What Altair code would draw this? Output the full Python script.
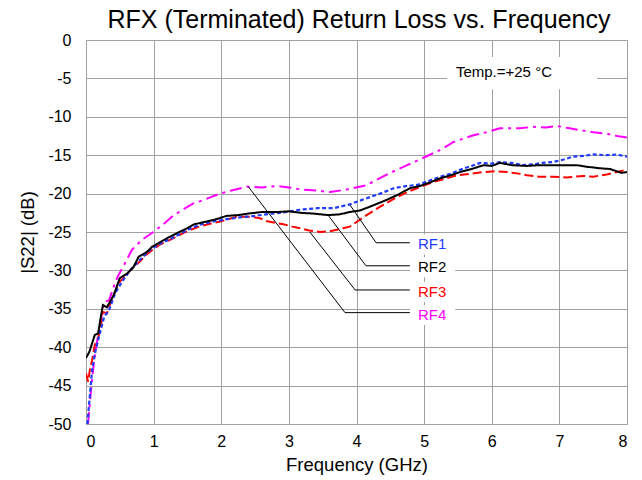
import altair as alt
import pandas as pd

# ---------------- data ----------------
rf1_freq = [0.02, 0.06, 0.09, 0.14, 0.19, 0.27, 0.34, 0.43, 0.53, 0.65,
            0.8, 0.95, 1.1, 1.25, 1.4, 1.55, 1.7, 1.9, 2.1, 2.28,
            2.5, 2.75, 2.97, 3.16, 3.42, 3.66, 3.9, 4.15, 4.35, 4.55,
            4.75, 4.89, 5.05, 5.24, 5.4, 5.53, 5.7, 5.83, 6.0, 6.12,
            6.3, 6.45, 6.61, 6.75, 6.9, 7.05, 7.2, 7.35, 7.5, 7.7,
            7.85, 8.0]
rf1_db = [-50, -46, -43, -40.5, -38.7, -36.0, -35.2, -33.0, -31.5, -30.0,
          -28.6, -27.3, -26.5, -25.9, -25.2, -24.5, -24.0, -23.6, -23.3, -23.1,
          -22.9, -22.6, -22.4, -22.1, -21.9, -21.9, -21.4, -20.6, -20.0, -19.3,
          -19.0, -18.9, -18.4, -17.8, -17.4, -16.9, -16.4, -16.0, -16.1, -15.9,
          -16.0, -16.3, -16.2, -16.0, -15.9, -15.6, -15.2, -15.1, -14.9, -15.0,
          -14.9, -15.2]

rf2_freq = [0.0, 0.05, 0.13, 0.18, 0.22, 0.25, 0.31, 0.41, 0.5, 0.61,
            0.7, 0.78, 0.9, 0.98, 1.1, 1.2, 1.38, 1.5, 1.6, 1.75,
            1.9, 2.08, 2.25, 2.4, 2.6, 2.82, 3.0, 3.17, 3.36, 3.58,
            3.75, 3.9, 4.05, 4.2, 4.45, 4.6, 4.79, 4.94, 5.1, 5.24,
            5.4, 5.53, 5.7, 5.88, 6.0, 6.12, 6.3, 6.52, 6.7, 6.86,
            7.0, 7.26, 7.4, 7.6, 7.75, 7.85, 7.92, 8.0]
rf2_db = [-41.4, -40.6, -38.4, -38.2, -36.0, -34.5, -34.8, -33.2, -31.0, -30.4,
          -29.6, -28.2, -27.6, -26.9, -26.3, -25.8, -25.0, -24.5, -24.0, -23.7,
          -23.4, -22.9, -22.8, -22.6, -22.4, -22.4, -22.3, -22.5, -22.6, -22.8,
          -22.7, -22.4, -22.2, -21.7, -20.8, -20.2, -19.3, -19.0, -18.5, -18.0,
          -17.6, -17.2, -16.8, -16.3, -16.4, -16.0, -16.3, -16.4, -16.3, -16.3,
          -16.3, -16.3, -16.5, -16.7, -16.8, -17.1, -17.3, -17.2]

rf3_freq = [0.0, 0.03, 0.06, 0.09, 0.13, 0.17, 0.21, 0.25, 0.31, 0.36,
            0.42, 0.49, 0.6, 0.7, 0.8, 0.9, 1.0, 1.1, 1.25, 1.4,
            1.55, 1.7, 1.85, 2.0, 2.23, 2.43, 2.57, 2.68, 2.8, 2.92,
            3.05, 3.17, 3.3, 3.46, 3.6, 3.71, 3.8, 3.9, 4.05, 4.15,
            4.35, 4.55, 4.75, 4.95, 5.13, 5.3, 5.49, 5.7, 5.88, 6.05,
            6.23, 6.4, 6.52, 6.7, 6.9, 7.1, 7.35, 7.5, 7.7, 7.85,
            8.0]
rf3_db = [-43.4, -44.5, -42.8, -41.7, -39.7, -39.0, -37.8, -35.4, -35.6, -34.3,
          -33.0, -31.6, -30.5, -29.6, -28.8, -27.9, -27.2, -26.6, -26.0, -25.3,
          -24.7, -24.2, -23.9, -23.6, -23.0, -23.0, -23.2, -23.6, -23.8, -24.0,
          -24.3, -24.5, -24.8, -25.0, -24.9, -24.7, -24.5, -24.3, -23.4, -22.8,
          -21.7, -20.7, -19.8, -19.1, -18.5, -18.1, -17.6, -17.4, -17.2, -17.1,
          -17.2, -17.4, -17.6, -17.8, -17.8, -17.9, -17.7, -17.8, -17.5, -17.2,
          -16.9]

rf4_freq = [0.03, 0.07, 0.12, 0.19, 0.27, 0.34, 0.41, 0.47, 0.55, 0.68,
            0.83, 0.98, 1.17, 1.3, 1.45, 1.58, 1.75, 1.98, 2.15, 2.38,
            2.6, 2.82, 3.0, 3.21, 3.4, 3.61, 3.9, 4.15, 4.3, 4.5,
            4.75, 5.0, 5.24, 5.43, 5.73, 5.93, 6.12, 6.42, 6.61, 6.8,
            6.97, 7.15, 7.35, 7.5, 7.7, 7.85, 8.0]
rf4_db = [-50, -46, -41.7, -37.8, -34.1, -33.9, -32.1, -30.8, -29.5, -27.3,
          -26.0, -25.1, -23.8, -22.8, -22.0, -21.3, -20.8, -20.0, -19.6, -19.1,
          -19.2, -19.0, -19.2, -19.5, -19.6, -19.8, -19.4, -18.9, -18.2, -17.3,
          -16.3, -15.3, -14.3, -13.3, -12.4, -12.0, -11.5, -11.5, -11.3, -11.4,
          -11.2, -11.5, -11.8, -12.0, -12.2, -12.5, -12.7]

series_names = ["RF1", "RF2", "RF3", "RF4"]
series_colors = ["#1f3cff", "#000000", "#ff0000", "#ff00ff"]

# annotation leader lines: curve point -> elbow -> label end
leader_start_x = [3.905, 3.58, 3.31, 2.40]
leader_start_y = [-21.5, -22.8, -25.0, -19.1]
leader_elbow_x = [4.29, 4.14, 3.98, 3.83]
leader_elbow_y = [-26.4, -29.4, -32.55, -35.5]
leader_end_x = 4.79
label_x = 4.91
label_y = [-26.6, -29.6, -32.8, -35.8]

title_text = "RFX (Terminated) Return Loss vs. Frequency"
temp_text = "Temp.=+25 °C"

x_ticks = [0, 1, 2, 3, 4, 5, 6, 7, 8]
y_ticks = [-50, -45, -40, -35, -30, -25, -20, -15, -10, -5, 0]

FONT = "Liberation Sans"

# ---------------- build tables ----------------
def mk(name, f, d):
    return pd.DataFrame({"freq": f, "db": d, "series": name})

curves = pd.concat([
    mk("RF1", rf1_freq, rf1_db),
    mk("RF2", rf2_freq, rf2_db),
    mk("RF3", rf3_freq, rf3_db),
    mk("RF4", rf4_freq, rf4_db),
], ignore_index=True)

lead_rows = []
for i, n in enumerate(series_names):
    lead_rows.append({"series": n, "k": 0, "x": leader_start_x[i], "y": leader_start_y[i]})
    lead_rows.append({"series": n, "k": 1, "x": leader_elbow_x[i], "y": leader_elbow_y[i]})
    lead_rows.append({"series": n, "k": 2, "x": leader_end_x, "y": leader_elbow_y[i]})
leaders = pd.DataFrame(lead_rows)

labels = pd.DataFrame({
    "series": series_names,
    "x": [label_x] * 4,
    "y": label_y,
    "x0": [leader_end_x] * 4,
    "x1": [5.46] * 4,
    "y0": [v - 1.3 for v in label_y],
    "y1": [v + 1.3 for v in label_y],
})

temp_df = pd.DataFrame({"x": [5.47], "y": [-4.2], "x0": [5.34], "x1": [7.56],
                        "y0": [-6.4], "y1": [-2.2], "t": [temp_text]})
title_df = pd.DataFrame({"t": [title_text]})

xscale = alt.Scale(domain=[0, 8], nice=False, zero=False)
yscale = alt.Scale(domain=[-50, 0], nice=False, zero=False)

common_axis = dict(grid=True, ticks=False, domain=False, labelOverlap=False,
                   labelFontSize=16, titleFontSize=18.5, labelFont=FONT, titleFont=FONT,
                   titleFontWeight="normal", labelColor="#000", titleColor="#000",
                   gridColor="#a0a0a0", gridWidth=1)
xaxis = alt.Axis(values=x_ticks, title="Frequency (GHz)", labelPadding=9,
                 titlePadding=6, labelExpr="format(datum.value, 'd')", **common_axis)
yaxis = alt.Axis(values=y_ticks, title="|S22| (dB)", labelPadding=15, titlePadding=10,
                 labelExpr="datum.value == 0 ? '0' : '-' + format(abs(datum.value), 'd')",
                 **common_axis)

color_scale = alt.Scale(domain=series_names, range=series_colors)


def X(field):
    return alt.X(field, type="quantitative", scale=xscale, axis=xaxis)


def Y(field):
    return alt.Y(field, type="quantitative", scale=yscale, axis=yaxis)


base = alt.Chart(curves)


def series_line(name, dash, width):
    return base.transform_filter(alt.datum.series == name).mark_line(
        strokeDash=dash, strokeWidth=width, clip=True
    ).encode(
        x=X("freq"),
        y=Y("db"),
        color=alt.Color("series:N", scale=color_scale, legend=None),
    )

l_rf4 = series_line("RF4", [12, 5, 3, 5], 2)
l_rf3 = series_line("RF3", [9, 4], 2)
l_rf1 = series_line("RF1", [4, 2.5], 2.2)
l_rf2 = series_line("RF2", [1, 0], 2)

lead = alt.Chart(leaders).mark_line(color="#000", strokeWidth=1).encode(
    x=X("x"), y=Y("y"), detail="series:N", order="k:Q",
)

boxes = alt.Chart(labels).mark_rect(color="white").encode(
    x=X("x0"), x2="x1:Q", y=Y("y0"), y2="y1:Q",
)
texts = alt.Chart(labels).mark_text(align="left", baseline="middle",
                                    fontSize=15, font=FONT).encode(
    x=X("x"), y=Y("y"),
    text="series:N",
    color=alt.Color("series:N", scale=color_scale, legend=None),
)

temp_box = alt.Chart(temp_df).mark_rect(color="white").encode(
    x=X("x0"), x2="x1:Q", y=Y("y0"), y2="y1:Q",
)
temp_txt = alt.Chart(temp_df).mark_text(align="left", baseline="middle",
                                        fontSize=15, font=FONT, color="#000").encode(
    x=X("x"), y=Y("y"), text="t:N",
)

title_mark = alt.Chart(title_df).mark_text(
    align="center", baseline="alphabetic", fontSize=25, font=FONT, color="#000"
).encode(x=alt.value(273), y=alt.value(-12), text="t:N")

chart = alt.layer(
    l_rf4, l_rf3, l_rf1, l_rf2, lead, boxes, texts, temp_box, temp_txt, title_mark
).properties(
    width=541, height=384,
    autosize=alt.AutoSizeParams(type="none"),
    padding={"left": 78, "top": 32, "right": 7, "bottom": 54},
).configure_view(
    stroke="#000", strokeWidth=2
).configure(background="white")

chart.save("out.html", embed_options={"renderer": "svg", "actions": False})
